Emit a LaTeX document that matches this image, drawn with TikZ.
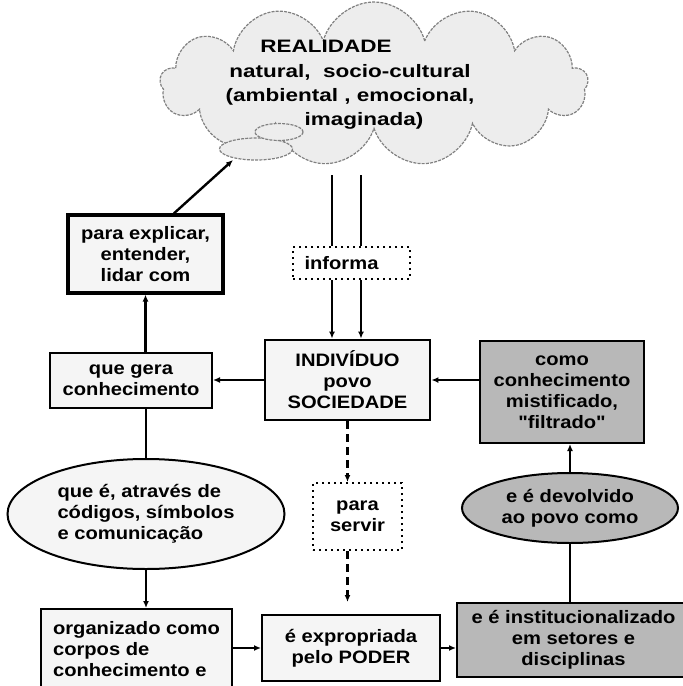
\documentclass[tikz,border=0pt]{standalone}
\usepackage{fontspec}
\setmainfont[FakeStretch=1.12,Ligatures=TeXOff]{Liberation Sans}
\newfontfamily\cloudfont[FakeStretch=1.25]{Liberation Sans}
\usetikzlibrary{shapes.symbols,shapes.geometric,arrows.meta}
\definecolor{paper}{gray}{0.96}
\definecolor{shade}{gray}{0.72}
\definecolor{mist}{gray}{0.93}
\definecolor{rim}{gray}{0.5}

\begin{document}
\begin{tikzpicture}[x=0.5pt,y=-0.5pt,
    font=\bfseries\fontsize{9}{10.5}\selectfont,
    box/.style={draw, line width=1pt, fill=paper, inner sep=0pt, align=center},
    graybox/.style={box, fill=shade},
    dotbox/.style={draw, dotted, line width=1pt, fill=white, inner sep=0pt, align=center},
    oval/.style={ellipse, draw, line width=1pt, fill=paper, inner sep=0pt, align=center},
    link/.style={line width=1.2pt, -{Latex[length=3.5pt,width=3pt]}},
    plain/.style={line width=1.2pt},
    puff/.style={draw=rim, dash pattern=on 1.5pt off 0.6pt, line width=0.6pt, fill=mist}]
    \path[use as bounding box, clip] (0,0) rectangle (683,686);

    % the cloud
    \node[cloud, cloud puffs=13, cloud ignores aspect, puff,
          minimum width=214pt, minimum height=82pt] (cloud) at (374,84) {};
    \draw[puff] (256,149) ellipse (36.5 and 11);
    \draw[puff] (279,132) ellipse (24 and 8.5);
    \node[font=\bfseries\cloudfont\fontsize{9}{12.2}\selectfont, align=center] (realidade) at (350,85)
        {REALIDADE\hspace*{24pt}\\natural,\ \ socio-cultural\\(ambiental , emocional,\\\hspace*{14pt}imaginada)};

    % boxes
    \node[box, line width=1.6pt, minimum width=77.5pt, minimum height=39pt] (expl) at (145.5,254)
        {para explicar,\\entender,\\lidar com};
    \node[dotbox, minimum width=58.5pt, minimum height=16pt] (informa) at (351.5,263) {informa\hspace*{10pt}};
    \node[box, line width=1.4pt, minimum width=82.5pt, minimum height=40pt] (indiv) at (347.5,380)
        {INDIVÍDUO\\povo\\SOCIEDADE};
    \node[box, minimum width=81pt, minimum height=27.5pt] (gera) at (131,380.5) {que gera\\conhecimento};
    \node[oval, minimum width=138.5pt, minimum height=55pt, align=left] (codes) at (146,514)
        {que é, através de\\códigos, símbolos\\e comunicação};
    \node[box, minimum width=95.5pt, minimum height=40.5pt, align=left] (corpos) at (136.5,649.5)
        {organizado como\\corpos de\\conhecimento e};
    \node[box, minimum width=89pt, minimum height=33pt] (poder) at (351,648) {é expropriada\\pelo PODER};
    \node[graybox, minimum width=116.5pt, minimum height=37pt] (setores) at (573.5,640)
        {e é institucionalizado\\em setores e\\disciplinas};
    \node[oval, fill=shade, minimum width=108pt, minimum height=35pt] (devol) at (570,508)
        {e é devolvido\\ao povo como};
    \node[graybox, minimum width=82pt, minimum height=51pt] (mist) at (562,392)
        {como\\conhecimento\\mistificado,\\"filtrado"};
    \node[dotbox, minimum width=44.5pt, minimum height=33.5pt] (servir) at (357.5,516.5) {para\\servir};

    % connectors
    \coordinate (cloudtip) at (233,160);
    \coordinate (inA) at (332,175);
    \coordinate (inB) at (361,175);
    \draw[link] (expl.55) -- (cloudtip);
    \draw[plain] (inA) -- (inA |- informa.north);
    \draw[plain] (inB) -- (inB |- informa.north);
    \draw[link] (inA |- informa.south) -- (inA |- indiv.north);
    \draw[link] (inB |- informa.south) -- (inB |- indiv.north);
    \draw[link] (indiv.west) -- (gera.east |- indiv.west);
    \draw[link] (mist.west |- indiv.east) -- (indiv.east);
    \draw[link] (gera.north -| expl.south) -- (expl.south);
    \draw[plain] (gera.south -| codes.north) -- (codes.north);
    \draw[link] (codes.south) -- (codes.south |- corpos.north);
    \draw[link] (corpos.east |- poder.west) -- (poder.west);
    \draw[link] (poder.east) -- (poder.east -| setores.west);
    \draw[plain] (devol.south) -- (devol.south |- setores.north);
    \draw[link] (devol.north) -- (devol.north |- mist.south);
    \draw[link, dash pattern=on 4pt off 2.5pt] (indiv.south) -- (indiv.south |- servir.north);
    \draw[link, dash pattern=on 4pt off 2.5pt, shorten >=6pt] (indiv.south |- servir.south) -- (indiv.south |- poder.north);
\end{tikzpicture}
\end{document}
